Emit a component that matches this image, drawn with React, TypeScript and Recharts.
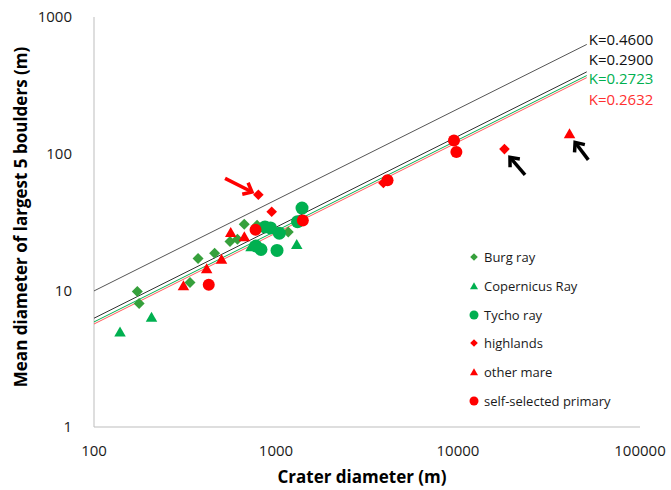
import React from "react";
import { ScatterChart, Scatter, XAxis, YAxis, Legend, ReferenceLine } from "recharts";

// crater diameter (m) vs mean diameter of largest 5 boulders (m)
const burgX = [173, 177, 337, 373, 460, 559, 614, 669, 787, 1168];
const burgY = [9.8, 8.0, 11.4, 17.1, 18.7, 22.8, 23.6, 30.4, 30, 26.7];
const copX = [139, 207, 729, 1300];
const copY = [5.0, 6.4, 21, 21.8];
const tychoX = [776, 827, 870, 933, 1013, 1043, 1313, 1390];
const tychoY = [21.1, 19.9, 29.1, 28.6, 19.6, 26.2, 31.8, 40];
const highX = [800, 947, 3890, 18000];
const highY = [50, 37.6, 61, 108];
const mareX = [310, 416, 502, 564, 670, 41000];
const mareY = [10.9, 14.5, 17, 26.7, 24.9, 141];
const selfX = [427, 772, 1404, 4100, 9500, 9800];
const selfY = [11, 27.7, 32.4, 64, 125, 103];

// K lines (start / end values)
const lineX = [100, 51000];
const kLabels = ["K=0.4600", "K=0.2900", "K=0.2723", "K=0.2632"];
const kLineY = [
  [9.9, 630],
  [6.25, 397],
  [5.87, 373],
  [5.67, 360],
];

// annotation arrows: tail -> head
const arrowTails = [[525, 66], [23350, 70], [52000, 90]];
const arrowHeads = [[738, 52.5], [19300, 94], [44000, 121]];

const xTicks = [100, 1000, 10000, 100000];
const yTicks = [1, 10, 100, 1000];

const FONT = "'Open Sans', sans-serif";
const GREEN_D = "#36a03c";
const GREEN = "#00b050";
const RED = "#ff0000";

const kStroke = ["#555555", "#333333", GREEN, "#ff5a5a"];
const kText = ["#111111", "#111111", GREEN, "#ff3030"];
const kDy = [-5, -13, 2, 21];

const zip = (xs: number[], ys: number[]) => xs.map((x, i) => ({ x, y: ys[i] }));

function diamond(r: number, fill: string) {
  return (p: any) => (
    <polygon
      points={`${p.cx},${p.cy - r} ${p.cx + r},${p.cy} ${p.cx},${p.cy + r} ${p.cx - r},${p.cy}`}
      fill={fill}
    />
  );
}

function triangle(s: number, fill: string) {
  const h = s * 0.866;
  return (p: any) => (
    <polygon
      points={`${p.cx},${p.cy - h / 2} ${p.cx + s / 2},${p.cy + h / 2} ${p.cx - s / 2},${p.cy + h / 2}`}
      fill={fill}
    />
  );
}

function circle(r: number, fill: string) {
  return (p: any) => <circle cx={p.cx} cy={p.cy} r={r} fill={fill} />;
}

function kLabelShape(i: number) {
  return (p: any) => {
    if (!p.payload || !p.payload.label) return <g />;
    return (
      <text
        x={p.cx + 2}
        y={p.cy + kDy[i]}
        dominantBaseline="central"
        fontFamily={FONT}
        fontSize={15}
        fill={kText[i]}
      >
        {p.payload.label}
      </text>
    );
  };
}

function arrowShape(color: string) {
  return (p: any) => {
    const { x1, y1, x2, y2 } = p;
    const a = Math.atan2(y2 - y1, x2 - x1);
    const len = 10;
    const spread = 0.7;
    const b1x = x2 - len * Math.cos(a - spread);
    const b1y = y2 - len * Math.sin(a - spread);
    const b2x = x2 - len * Math.cos(a + spread);
    const b2y = y2 - len * Math.sin(a + spread);
    return (
      <g stroke={color} strokeWidth={3.5} fill="none" strokeLinecap="butt" strokeLinejoin="miter">
        <line x1={x1} y1={y1} x2={x2 - 1.5 * Math.cos(a)} y2={y2 - 1.5 * Math.sin(a)} />
        <polyline points={`${b1x},${b1y} ${x2},${y2} ${b2x},${b2y}`} />
      </g>
    );
  };
}

const legendItems = [
  { name: "Burg ray", kind: "diamond", color: GREEN_D },
  { name: "Copernicus Ray", kind: "triangle", color: GREEN },
  { name: "Tycho ray", kind: "circle", color: GREEN },
  { name: "highlands", kind: "diamond", color: RED },
  { name: "other mare", kind: "triangle", color: RED },
  { name: "self-selected primary", kind: "circle", color: RED },
];

function LegendIcon({ kind, color }: { kind: string; color: string }) {
  return (
    <svg width={12} height={12} style={{ display: "block" }}>
      {kind === "diamond" && <polygon points="6,2.2 9.8,6 6,9.8 2.2,6" fill={color} />}
      {kind === "triangle" && <polygon points="6,2.3 10,9.3 2,9.3" fill={color} />}
      {kind === "circle" && <circle cx={6} cy={6} r={4.5} fill={color} />}
    </svg>
  );
}

const renderLegend = () => (
  <div style={{ fontFamily: FONT, fontSize: 13, color: "#1a1a1a" }}>
    {legendItems.map((it) => (
      <div key={it.name} style={{ display: "flex", alignItems: "center", height: 28.7 }}>
        <LegendIcon kind={it.kind} color={it.color} />
        <span style={{ marginLeft: 4, whiteSpace: "nowrap" }}>{it.name}</span>
      </div>
    ))}
  </div>
);

export default function App() {
  const tick = { fill: "#1a1a1a", fontSize: 15, fontFamily: FONT };
  return (
    <div style={{ position: "fixed", left: 0, top: 0, width: 671, height: 490, background: "#fff" }}>
      <ScatterChart width={671} height={490} margin={{ top: 17, right: 31, bottom: 0, left: 0 }}>
        <XAxis
          type="number"
          dataKey="x"
          scale="log"
          domain={[100, 100000]}
          ticks={xTicks}
          height={63}
          tickLine={false}
          tickSize={0}
          tickMargin={18}
          axisLine={{ stroke: "#bdbdbd" }}
          tick={tick}
          label={{
            value: "Crater diameter (m)",
            position: "insideBottom",
            offset: 7,
            dx: -5,
            style: { fontFamily: FONT, fontWeight: 700, fontSize: 17, fill: "#000" },
          }}
        />
        <YAxis
          type="number"
          dataKey="y"
          scale="log"
          domain={[1, 1000]}
          ticks={yTicks}
          width={94}
          tickLine={false}
          tickSize={0}
          tickMargin={22}
          axisLine={{ stroke: "#bdbdbd" }}
          tick={tick}
          label={{
            value: "Mean diameter of largest 5 boulders (m)",
            angle: -90,
            position: "insideLeft",
            offset: 21,
            dy: -5,
            style: { fontFamily: FONT, fontWeight: 700, fontSize: 17, fill: "#000", textAnchor: "middle" },
          }}
        />
        <Legend
          layout="vertical"
          align="center"
          verticalAlign="middle"
          content={renderLegend}
          wrapperStyle={{ left: 468, top: 243, width: 200, height: 175 }}
        />
        {kLabels.map((lab, i) => (
          <Scatter
            key={lab}
            data={[
              { x: lineX[0], y: kLineY[i][0] },
              { x: lineX[1], y: kLineY[i][1], label: lab },
            ]}
            line={{ stroke: kStroke[i], strokeWidth: 1 }}
            shape={kLabelShape(i)}
            isAnimationActive={false}
          />
        ))}
        <Scatter data={zip(burgX, burgY)} shape={diamond(5.5, GREEN_D)} isAnimationActive={false} />
        <Scatter data={zip(copX, copY)} shape={triangle(11.5, GREEN)} isAnimationActive={false} />
        <Scatter data={zip(tychoX, tychoY)} shape={circle(6.5, GREEN)} isAnimationActive={false} />
        <Scatter data={zip(highX, highY)} shape={diamond(5.3, RED)} isAnimationActive={false} />
        <Scatter data={zip(mareX, mareY)} shape={triangle(11.5, RED)} isAnimationActive={false} />
        <Scatter data={zip(selfX, selfY)} shape={circle(6, RED)} isAnimationActive={false} />
        {arrowTails.map((t, i) => (
          <ReferenceLine
            key={i}
            ifOverflow="visible"
            segment={[
              { x: t[0], y: t[1] },
              { x: arrowHeads[i][0], y: arrowHeads[i][1] },
            ]}
            shape={arrowShape(i === 0 ? RED : "#000")}
          />
        ))}
      </ScatterChart>
    </div>
  );
}
